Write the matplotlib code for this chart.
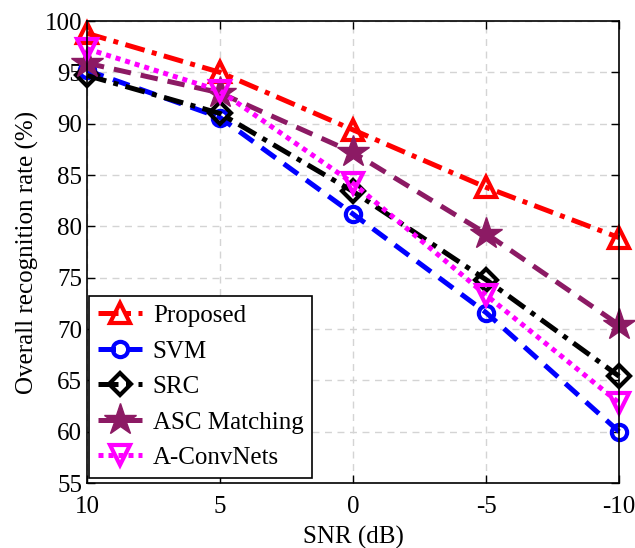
import matplotlib.pyplot as plt

plt.rcParams['font.family'] = ['Liberation Serif', 'DejaVu Serif']
plt.rcParams['font.size'] = 18

snr = [10, 5, 0, -5, -10]
proposed = [98.8, 95.0, 89.4, 83.8, 78.9]
svm = [95.2, 90.6, 81.2, 71.6, 60.0]
src = [94.7, 91.0, 83.4, 74.8, 65.4]
asc = [95.9, 93.0, 87.2, 79.3, 70.4]
aconv = [97.3, 93.2, 84.2, 73.3, 62.8]

fig = plt.figure(figsize=(6.35, 5.48), dpi=100)
ax = fig.add_axes([0.137, 0.1186, 0.838, 0.843])

lw = 3.6
dashdot = (0, (4, 1.5, 1, 1.5))
dashed = (0, (3.5, 2))
ax.plot(snr, proposed, color='red', ls=dashdot, lw=lw, marker='^',
        ms=15, mfc='none', mew=3, label='Proposed', clip_on=False)
ax.plot(snr, svm, color='blue', ls=dashed, lw=lw, marker='o',
        ms=11, mfc='none', mew=3, label='SVM', clip_on=False)
ax.plot(snr, src, color='black', ls=dashdot, lw=lw, marker='D',
        ms=11, mfc='none', mew=3, label='SRC', clip_on=False)
ax.plot(snr, asc, color='#8c1a64', ls=dashed, lw=lw, marker='*',
        ms=24, mfc='#8c1a64', mew=1, label='ASC Matching', clip_on=False)
ax.plot(snr, aconv, color='magenta', ls=(0, (1, 1)), lw=lw, marker='v',
        ms=15, mfc='none', mew=3, label='A-ConvNets', clip_on=False)

ax.set_xlim(10, -10)
ax.set_ylim(55, 100)
ax.set_xticks(snr)
ax.set_xticklabels(['10', '5', '0', '-5', '-10'])
ax.set_yticks(range(55, 101, 5))
ax.grid(True, color='#d4d4d4', ls=(0, (5, 4)), lw=1)
ax.tick_params(direction='in', top=True, right=True, length=6, width=1)
ax.tick_params(axis='x', pad=9)
for s in ax.spines.values():
    s.set_linewidth(1.2)

ax.set_xlabel('SNR (dB)', labelpad=6)
ax.set_ylabel('Overall recognition rate (%)')

leg = ax.legend(loc='lower left', bbox_to_anchor=(0.004, 0.011), borderaxespad=0,
                fancybox=False, edgecolor='black', framealpha=1, handlelength=1.75,
                labelspacing=0.52, borderpad=0.35, handletextpad=0.45)
leg.get_frame().set_linewidth(1.2)

fig.savefig('out.png', dpi=100)
